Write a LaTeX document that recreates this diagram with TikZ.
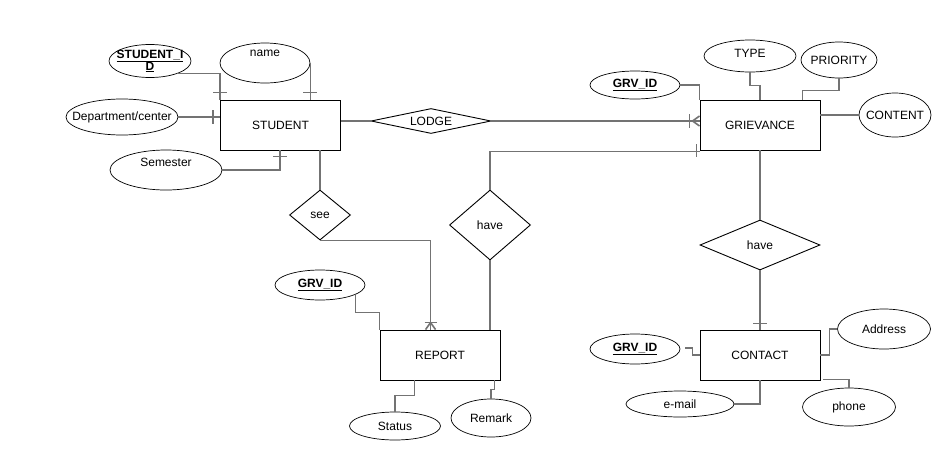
\documentclass[tikz,border=0pt]{standalone}
\usepackage{fontspec}
\setmainfont{Liberation Sans}
\usetikzlibrary{shapes.geometric,calc}
\newcommand{\zb}[1]{\makebox[0pt]{#1}}
\begin{document}
\begin{tikzpicture}[x=1pt,y=-1pt,
  every node/.style={font=\fontsize{12}{13}\selectfont, inner sep=0pt},
  ent/.style={draw=black, line width=0.9pt, minimum width=120, minimum height=50, fill=white},
  attr/.style={draw=black, line width=0.7pt, ellipse, fill=white},
  rel/.style={draw=black, line width=0.9pt, diamond, fill=white},
  conn/.style={draw=black!55, line width=1.6pt},
  key/.style={font=\fontsize{12}{13}\selectfont\bfseries}]
\useasboundingbox[fill=white] (0,0) rectangle (950,461);

% entities
\node[ent] (stu) at (280.5,125) {STUDENT};
\node[ent] (grv) at (760,125) {GRIEVANCE};
\node[ent] (rep) at (440,355) {REPORT};
\node[ent] (con) at (760,355) {CONTACT};

% relationships
\node[rel, minimum width=120, minimum height=25, aspect=4.8] (lg) at (431,121) {LODGE};
\node[rel, minimum width=61, minimum height=50, aspect=1.2] (see) at (320,215) {see};
\node[rel, minimum width=81, minimum height=70, aspect=1.15] (hv1) at (490,225) {have};
\node[rel, minimum width=120, minimum height=50, aspect=2.4] (hv2) at (760,245) {have};

% attributes
\node[attr, minimum width=82, minimum height=33, key, align=center] (sid) at (150,61)
  {\zb{\underline{STUDENT\_I}}\\[-1pt]\zb{\underline{D}}};
\node[attr, minimum width=90, minimum height=40] (nm) at (265,63) {\raisebox{19pt}{name}};
\node[attr, minimum width=112, minimum height=36] (dep) at (122,117) {\zb{Department/center}};
\node[attr, minimum width=112, minimum height=40] (sem) at (166,170) {\raisebox{16pt}{Semester}};
\node[attr, minimum width=90, minimum height=28, key] (gid) at (635,85) {\underline{GRV\_ID}};
\node[attr, minimum width=92, minimum height=32] (ty) at (750,56) {\raisebox{5pt}{TYPE}};
\node[attr, minimum width=76, minimum height=36] (pr) at (839,60) {\zb{PRIORITY}};
\node[attr, minimum width=72, minimum height=44] (ct) at (895,115) {\zb{CONTENT}};
\node[attr, minimum width=90, minimum height=30, key] (rid) at (320,285) {\underline{GRV\_ID}};
\node[attr, minimum width=91, minimum height=28] (st) at (395,426) {Status};
\node[attr, minimum width=80, minimum height=38] (rm) at (491,418) {Remark};
\node[attr, minimum width=90, minimum height=30, key] (cid) at (635,349) {\underline{GRV\_ID}};
\node[attr, minimum width=93, minimum height=40] (ad) at (884,329) {Address};
\node[attr, minimum width=93, minimum height=38] (ph) at (849,407) {phone};
\node[attr, minimum width=108, minimum height=26] (em) at (680,404) {e-mail};

% STUDENT attributes
\draw[conn] (sid.-25) -| (stu.north west);
\draw[conn] ($(stu.north west)+(-7,-7)$) -- ++(14,0);
\draw[conn] (nm.east) -- (nm.east |- stu.north);
\draw[conn] ($(nm.east |- stu.north)+(-7,-7)$) -- ++(14,0);
\draw[conn] (dep.east) -- (dep.east -| stu.west);
\draw[conn] ($(dep.east -| stu.west)+(-7,-7)$) -- ++(0,14);
\draw[conn] (sem.east) -| ($(stu.south west)+(60,0)$);
\draw[conn] ($(stu.south west)+(53,6)$) -- ++(14,0);

% STUDENT - LODGE - GRIEVANCE
\draw[conn] (lg.west -| stu.east) -- (lg.west);
\draw[conn] (lg.east) -- (lg.east -| grv.west);
\draw[conn] ($(lg.east -| grv.west)+(-10,-7)$) -- ++(0,14);
\draw[conn] ($(lg.east -| grv.west)+(0,-5)$) -- ($(lg.east -| grv.west)+(-7,0)$) -- ($(lg.east -| grv.west)+(0,5)$);

% STUDENT - see - REPORT
\draw[conn] (see.north |- stu.south) -- (see.north);
\draw[conn] (see.south) -| ($(rep.north west)+(51,0)$);
\draw[conn] ($(rep.north west)+(45,-7)$) -- ++(12,0);
\draw[conn] ($(rep.north west)+(46,0)$) -- ($(rep.north west)+(51,-7)$) -- ($(rep.north west)+(56,0)$);

% REPORT - have - GRIEVANCE
\draw[conn] (hv1.south |- rep.north) -- (hv1.south);
\draw[conn] (hv1.north) |- ($(grv.south west)+(0,1)$);
\draw[conn] ($(grv.south west)+(-3,-6)$) -- ++(0,13);

% GRIEVANCE attributes
\draw[conn] (gid.east) -| (grv.north west);
\draw[conn] (ty.south) -- ++(0,13) -| (grv.north);
\draw[conn] (pr.south) -- ++(0,12) -| ($(grv.north east)+(-18,0)$);
\draw[conn] (grv.east |- ct.west) -- (ct.west);

% GRIEVANCE - have - CONTACT
\draw[conn] (grv.south) -- (hv2.north);
\draw[conn] (hv2.south) -- (con.north);
\draw[conn] ($(con.north)+(-7,-6)$) -- ++(14,0);

% CONTACT attributes
\draw[conn] ($(cid.east)+(5,-1)$) -- ++(7,0) |- (con.west);
\draw[conn] (con.east) -- ++(9,0) |- (ad.west);
\draw[conn] ($(con.south east)+(3,-1)$) -| (ph.north);
\draw[conn] (em.east) -| (con.south);

% REPORT attributes
\draw[conn] (rid.-15) -- ++(0,18) -| (rep.north west);
\draw[conn] ($(rep.south west)+(35,0)$) -- ++(0,15) -| (st.north);
\draw[conn] ($(rep.south east)+(-6,0)$) -- ++(0,9) -| (rm.north);
\end{tikzpicture}
\end{document}
